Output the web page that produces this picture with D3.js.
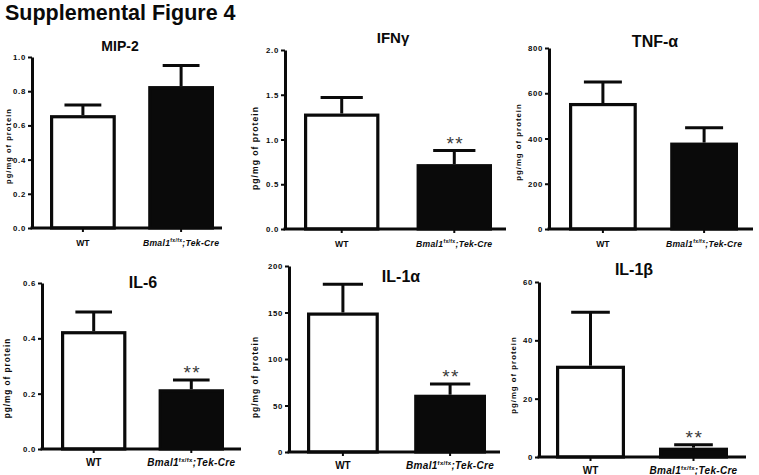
<!DOCTYPE html>
<html>
<head>
<meta charset="utf-8">
<script src="https://cdn.jsdelivr.net/npm/d3@7/dist/d3.min.js"></script>
<style>
  html, body { margin: 0; padding: 0; background: #fff; }
  svg { display: block; font-family: "Liberation Sans", Arial, sans-serif; }
</style>
</head>
<body>
<svg id="chart" width="759" height="475"></svg>
<script>
// ---------------- data ----------------
const figureTitle = "Supplemental Figure 4";
const panelTitles = ["MIP-2", "IFNγ", "TNF-α", "IL-6", "IL-1α", "IL-1β"];
const groups = ["WT", "Bmal1"];
const wtMeans = [0.66, 1.29, 557, 0.426, 150, 31.3];
const wtErrors = [0.06, 0.18, 93, 0.069, 30.5, 18.3];
const koMeans = [0.83, 0.725, 382, 0.216, 61.6, 3.2];
const koErrors = [0.12, 0.152, 66, 0.033, 11.5, 1.0];
const yMaxes = [1.0, 2.0, 800, 0.6, 200, 60];
const yTicks = [
  [0, 0.2, 0.4, 0.6, 0.8, 1.0],
  [0, 0.5, 1.0, 1.5, 2.0],
  [0, 200, 400, 600, 800],
  [0, 0.2, 0.4, 0.6],
  [0, 50, 100, 150, 200],
  [0, 20, 40, 60]
];
const tickDecimals = [1, 1, 0, 1, 0, 0];
const significance = ["", "**", "", "**", "**", "**"];
const yAxisLabel = "pg/mg of protein";

// ---------------- layout (geometry only) ----------------
const layout = [
  { ax: 32,  top: 57,  bot: 228, xEnd: 222, b0: 50,  b1: 214, tx: 120, ty: 51,  tfs: 14, lx: 11,  ly: 146, lfs: 7.6, xfs: 8.6, row: 0 },
  { ax: 285, top: 50,  bot: 229, xEnd: 506, b0: 304, b1: 492, tx: 393, ty: 43,  tfs: 15, lx: 258, ly: 148, lfs: 8.6, xfs: 8.6, row: 0 },
  { ax: 549, top: 48,  bot: 229, xEnd: 753, b0: 569, b1: 738, tx: 655, ty: 47,  tfs: 16, lx: 521, ly: 142, lfs: 7.8, xfs: 8.6, row: 0 },
  { ax: 42,  top: 283, bot: 449, xEnd: 241, b0: 61,  b1: 224, tx: 143, ty: 288, tfs: 16, lx: 10,  ly: 378, lfs: 8.2, xfs: 10, row: 1 },
  { ax: 289, top: 266, bot: 452, xEnd: 500, b0: 307, b1: 486, tx: 401, ty: 282, tfs: 16, lx: 258, ly: 377, lfs: 8.4, xfs: 10, row: 1 },
  { ax: 539, top: 282, bot: 457, xEnd: 746, b0: 556, b1: 728, tx: 634, ty: 275, tfs: 16, lx: 516, ly: 375, lfs: 7.8, xfs: 10, row: 1 }
];

const svg = d3.select("#chart");
const ink = "#0a0a0a";

svg.append("text")
  .attr("x", 5).attr("y", 20)
  .attr("font-size", 21.5).attr("font-weight", "bold")
  .attr("fill", ink)
  .text(figureTitle);

panelTitles.forEach((title, i) => {
  const L = layout[i];
  const g = svg.append("g");

  const y = d3.scaleLinear().domain([0, yMaxes[i]]).range([L.bot, L.top]);
  const x = d3.scaleBand().domain(groups).range([L.b0, L.b1]).paddingInner(0.33).paddingOuter(0);
  const bw = x.bandwidth();
  const sw = 3.2; // bar outline width

  const means = [wtMeans[i], koMeans[i]];
  const errs = [wtErrors[i], koErrors[i]];
  groups.forEach((grp, j) => {
    const x0 = x(grp), cx = x0 + bw / 2;
    const yTop = y(means[j]), yErr = y(means[j] + errs[j]);
    g.append("line")
      .attr("x1", cx).attr("x2", cx).attr("y1", yTop).attr("y2", yErr)
      .attr("stroke", ink).attr("stroke-width", 3);
    g.append("line")
      .attr("x1", cx - bw * 0.28).attr("x2", cx + bw * 0.28).attr("y1", yErr).attr("y2", yErr)
      .attr("stroke", ink).attr("stroke-width", 3);
    g.append("rect")
      .attr("x", x0 + sw / 2).attr("y", yTop + sw / 2)
      .attr("width", bw - sw).attr("height", Math.max(0, L.bot - yTop - sw / 2))
      .attr("fill", j === 0 ? "#fff" : ink)
      .attr("stroke", ink).attr("stroke-width", sw);
    if (j === 1 && significance[i]) {
      g.append("text")
        .attr("x", cx + 1).attr("y", yErr - 1)
        .attr("text-anchor", "middle")
        .attr("font-size", 19).attr("letter-spacing", 1.5)
        .attr("fill", "#3a3a3a")
        .text(significance[i]);
    }
  });

  // y axis
  const yAxis = d3.axisLeft(y)
    .tickValues(yTicks[i])
    .tickSize(4).tickSizeOuter(0).tickPadding(2)
    .tickFormat(d => d.toFixed(tickDecimals[i]));
  const ya = g.append("g").attr("transform", `translate(${L.ax},0)`).call(yAxis);
  ya.select(".domain").attr("stroke", ink).attr("stroke-width", 3);
  ya.selectAll(".tick line").attr("stroke", ink).attr("stroke-width", 2);
  ya.selectAll(".tick text")
    .attr("font-size", 7.8).attr("font-weight", "bold")
    .attr("font-family", "Liberation Sans, Arial, sans-serif")
    .attr("letter-spacing", 0.7)
    .attr("fill", ink);

  // x axis
  const xAxis = d3.axisBottom(x).tickSize(4).tickSizeOuter(0).tickPadding(6).tickFormat(() => "");
  const xa = g.append("g").attr("transform", `translate(0,${L.bot})`).call(xAxis);
  xa.select(".domain").remove();
  xa.selectAll(".tick text").remove();
  xa.selectAll(".tick line").attr("stroke", ink).attr("stroke-width", 2);
  g.append("line")
    .attr("x1", L.ax - 1.5).attr("x2", L.xEnd)
    .attr("y1", L.bot).attr("y2", L.bot)
    .attr("stroke", ink).attr("stroke-width", 3);

  const labelY = L.bot + (L.row === 0 ? 17.5 : 17);
  g.append("text")
    .attr("x", x("WT") + bw / 2).attr("y", labelY)
    .attr("text-anchor", "middle")
    .attr("font-size", L.xfs).attr("font-weight", "bold").attr("fill", ink)
    .text("WT");
  const kt = g.append("text")
    .attr("x", x("Bmal1") + bw / 2).attr("y", labelY)
    .attr("text-anchor", "middle")
    .attr("font-size", L.xfs).attr("font-weight", "bold").attr("font-style", "italic")
    .attr("letter-spacing", 0.3)
    .attr("fill", ink);
  kt.append("tspan").text("Bmal1");
  kt.append("tspan").attr("font-size", L.xfs * 0.6).attr("dy", -L.xfs * 0.4).attr("font-style", "normal").text("fx/fx");
  kt.append("tspan").attr("dy", L.xfs * 0.4).text(";Tek-Cre");

  // y-axis label
  g.append("text")
    .attr("transform", `translate(${L.lx},${L.ly}) rotate(-90)`)
    .attr("text-anchor", "middle")
    .attr("font-size", L.lfs).attr("font-weight", "bold")
    .attr("letter-spacing", 1)
    .attr("fill", ink)
    .text(yAxisLabel);

  // panel title
  g.append("text")
    .attr("x", L.tx).attr("y", L.ty)
    .attr("text-anchor", "middle")
    .attr("font-size", L.tfs).attr("font-weight", "bold")
    .attr("fill", ink)
    .text(title);
});
</script>
</body>
</html>
